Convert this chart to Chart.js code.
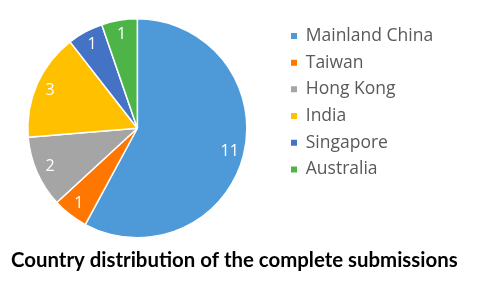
<!DOCTYPE html>
<html>
<head>
<meta charset="utf-8">
<script src="https://cdn.jsdelivr.net/npm/chart.js@4/dist/chart.umd.min.js"></script>
<style>
  html, body { margin: 0; padding: 0; background: #fff; }
  #caja { width: 500px; height: 296px; }
</style>
</head>
<body>
<div id="caja"><canvas id="grafico"></canvas></div>
<script>
// datos
const paises = ['Mainland China', 'Taiwan', 'Hong Kong', 'India', 'Singapore', 'Australia'];
const envios = [11, 1, 2, 3, 1, 1];
const colores = ['#4E9AD9', '#FF7700', '#A5A5A5', '#FFC000', '#4472C4', '#4DB548'];
const titulo = 'Country distribution of the complete submissions';

// etiquetas blancas dentro de cada porcion
const etiquetas = {
    id: 'etiquetas',
    afterDatasetsDraw(chart) {
        const ctx = chart.ctx;
        const meta = chart.getDatasetMeta(0);
        ctx.save();
        ctx.fillStyle = '#fff';
        ctx.font = '16px "Open Sans"';
        ctx.textAlign = 'center';
        ctx.textBaseline = 'middle';
        meta.data.forEach((arco, i) => {
            const medio = (arco.startAngle + arco.endAngle) / 2;
            const r = arco.outerRadius * 0.87;
            ctx.fillText(envios[i], arco.x + Math.cos(medio) * r, arco.y + Math.sin(medio) * r);
        });
        ctx.restore();
    }
};

// la leyenda queda algo separada del pastel y el titulo usa todo el ancho
const ajustarCajas = {
    id: 'ajustarCajas',
    afterLayout(chart) {
        const l = chart.legend;
        const dx = 281.8 - l.left;
        l.left += dx;
        l.right += dx;
        chart.titleBlock.right = 495;
    }
};

const ctx = document.getElementById('grafico').getContext('2d');
const chart = new Chart(ctx, {
    type: 'pie',
    data: {
        labels: paises,
        datasets: [{
            data: envios,
            backgroundColor: colores,
            borderColor: '#fff',
            borderWidth: 1.5
        }]
    },
    options: {
        responsive: true,
        maintainAspectRatio: false,
        animation: false,
        layout: { padding: { top: 18, left: 11, right: 75, bottom: 12 } },
        plugins: {
            tooltip: { enabled: false },
            legend: {
                position: 'right',
                align: 'start',
                labels: {
                    boxWidth: 6,
                    boxHeight: 6,
                    padding: 9.2,
                    color: '#595959',
                    font: { family: '"Open Sans"', size: 17.5 },
                    generateLabels(chart) {
                        const items = Chart.overrides.pie.plugins.legend.labels.generateLabels(chart);
                        items.forEach(it => { it.lineWidth = 0; it.strokeStyle = it.fillStyle; });
                        return items;
                    }
                }
            },
            title: {
                display: true,
                text: titulo,
                position: 'bottom',
                align: 'start',
                color: '#000',
                font: { family: 'Lato', size: 20.4, weight: 'bold' },
                padding: { top: 10, bottom: 11 }
            }
        }
    },
    plugins: [etiquetas, ajustarCajas]
});
</script>
</body>
</html>
